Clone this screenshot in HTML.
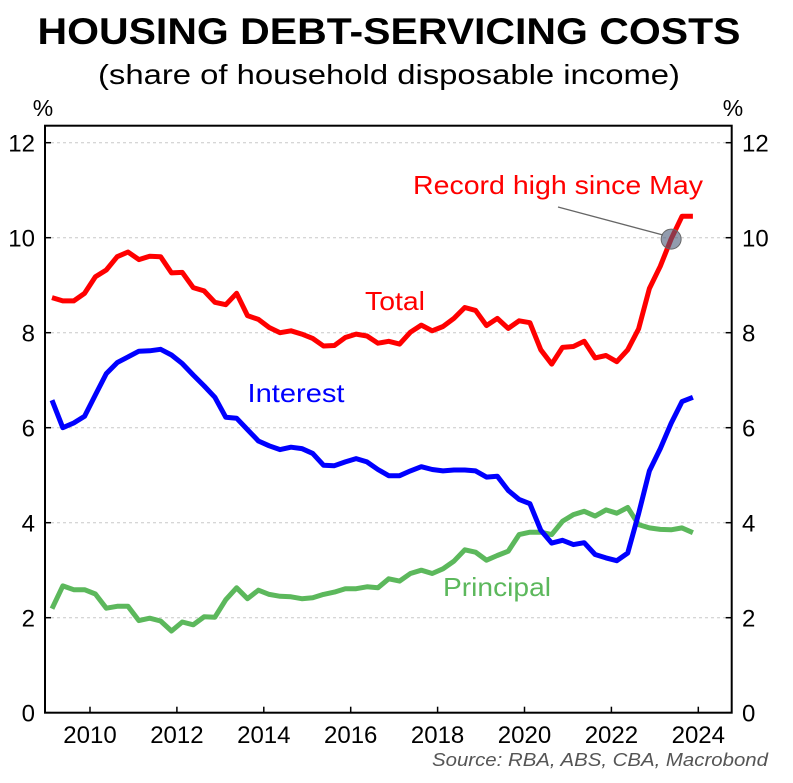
<!DOCTYPE html>
<html><head><meta charset="utf-8"><style>
body{margin:0;background:#fff;}
svg text{font-family:"Liberation Sans",Arial,sans-serif;}
</style></head><body>
<svg id="chart" width="793" height="778" xmlns="http://www.w3.org/2000/svg">
<text x="389" y="44" text-anchor="middle" font-size="37" font-weight="bold" textLength="703" lengthAdjust="spacingAndGlyphs">HOUSING DEBT-SERVICING COSTS</text>
<text x="389" y="84" text-anchor="middle" font-size="28" textLength="582" lengthAdjust="spacingAndGlyphs">(share of household disposable income)</text>
<text x="43" y="116" text-anchor="middle" font-size="23">%</text>
<text x="733" y="116" text-anchor="middle" font-size="23">%</text>
<g id="grid"></g>
<g id="series"></g>
<rect x="45" y="125.7" width="686.7" height="587" fill="none" stroke="#000" stroke-width="2"/>
<g id="axes"></g>
<text x="558" y="194" text-anchor="middle" font-size="26" fill="#ff0000" textLength="290" lengthAdjust="spacingAndGlyphs">Record high since May</text>
<line x1="558" y1="207" x2="663" y2="235" stroke="#666" stroke-width="1.3"/>
<text x="395" y="310" text-anchor="middle" font-size="26" fill="#ff0000" textLength="60" lengthAdjust="spacingAndGlyphs">Total</text>
<text x="296" y="402" text-anchor="middle" font-size="26" fill="#0000ff" textLength="97" lengthAdjust="spacingAndGlyphs">Interest</text>
<text x="497" y="596" text-anchor="middle" font-size="26" fill="#5cb85c" textLength="108" lengthAdjust="spacingAndGlyphs">Principal</text>
<text x="768" y="766" text-anchor="end" font-size="18" font-style="italic" fill="#555" textLength="336" lengthAdjust="spacingAndGlyphs">Source: RBA, ABS, CBA, Macrobond</text>
</svg>
<script>
const total = [8.74,8.67,8.67,8.83,9.18,9.32,9.6,9.7,9.54,9.61,9.6,9.26,9.27,8.95,8.88,8.64,8.59,8.83,8.36,8.28,8.11,8.0,8.04,7.97,7.88,7.72,7.73,7.9,7.97,7.93,7.78,7.82,7.76,8.01,8.16,8.04,8.13,8.3,8.53,8.47,8.15,8.3,8.09,8.25,8.21,7.64,7.34,7.69,7.71,7.82,7.47,7.52,7.39,7.64,8.08,8.93,9.4,9.97,10.45,10.45];
const interest = [6.58,6.0,6.1,6.24,6.69,7.14,7.37,7.49,7.61,7.62,7.65,7.53,7.35,7.11,6.88,6.64,6.22,6.2,5.96,5.72,5.62,5.54,5.59,5.56,5.46,5.21,5.2,5.28,5.35,5.28,5.12,4.99,4.99,5.09,5.18,5.12,5.09,5.11,5.11,5.09,4.96,4.98,4.68,4.49,4.4,3.84,3.57,3.63,3.54,3.58,3.33,3.26,3.2,3.36,4.19,5.09,5.56,6.09,6.55,6.64];
const principal = [2.19,2.67,2.59,2.59,2.5,2.2,2.24,2.24,1.94,1.99,1.93,1.72,1.91,1.85,2.02,2.01,2.38,2.63,2.4,2.58,2.49,2.45,2.44,2.4,2.42,2.49,2.54,2.61,2.61,2.65,2.63,2.82,2.77,2.93,3.0,2.93,3.03,3.19,3.43,3.38,3.21,3.31,3.4,3.75,3.8,3.8,3.75,4.03,4.17,4.24,4.14,4.27,4.2,4.32,3.96,3.89,3.86,3.85,3.89,3.79];
const startYear = 2009.125;
const yTicks = [0,2,4,6,8,10,12];
const xTickYears = [2010,2012,2014,2016,2018,2020,2022,2024];
const highlightIndex = 57;

const NS = "http://www.w3.org/2000/svg";
const xs = t => 90 + 43.45 * (t - 2010);
const ys = v => 712.7 - 47.5 * v;
const tOf = i => startYear + 0.25 * i;
function mk(tag, attrs, parent){const e=document.createElementNS(NS,tag);for(const k in attrs)e.setAttribute(k,attrs[k]);parent.appendChild(e);return e;}
const grid=document.getElementById('grid'), axes=document.getElementById('axes'), ser=document.getElementById('series');
yTicks.forEach(v=>{
  if(v>0&&v<13){
    const g=mk('line',{x1:45,x2:731.7,y1:ys(v),y2:ys(v),stroke:'#c8c8c8','stroke-width':1,'stroke-dasharray':'3,3'},grid);
    
    
  }
  const tl=mk('line',{x1:45,x2:51,y1:ys(v),y2:ys(v),stroke:'#000','stroke-width':1.5},axes);
  
  
  const tr=mk('line',{x1:725.7,x2:731.7,y1:ys(v),y2:ys(v),stroke:'#000','stroke-width':1.5},axes);
  
  
  const a=mk('text',{x:35,y:ys(v)+9,'text-anchor':'end','font-size':24},axes);a.textContent=v;
  
  
  const b=mk('text',{x:742,y:ys(v)+9,'text-anchor':'start','font-size':24},axes);b.textContent=v;
  
  
});
xTickYears.forEach(y=>{
  const t=mk('line',{x1:xs(y),x2:xs(y),y1:706.7,y2:712.7,stroke:'#000','stroke-width':1.5},axes);
  
  
  const l=mk('text',{x:xs(y),y:743,'text-anchor':'middle','font-size':24},axes);l.textContent=y;
  
  
});
function line(data,color,name){
  const d=data.map((v,i)=>(i?'L':'M')+xs(tOf(i)).toFixed(1)+','+ys(v).toFixed(1)).join('');
  const p=mk('path',{d:d,fill:'none',stroke:color,'stroke-width':5,'stroke-linejoin':'round'},ser);
  
  
}
line(principal,'#5cb85c','principal-line');
line(interest,'#0000ff','interest-line');
line(total,'#ff0000','total-line');
const c=mk('circle',{cx:xs(tOf(highlightIndex)),cy:ys(total[highlightIndex]),r:10,fill:'#4a5a78','fill-opacity':0.6,stroke:'#666','stroke-width':1},ser);


</script>
</body></html>
